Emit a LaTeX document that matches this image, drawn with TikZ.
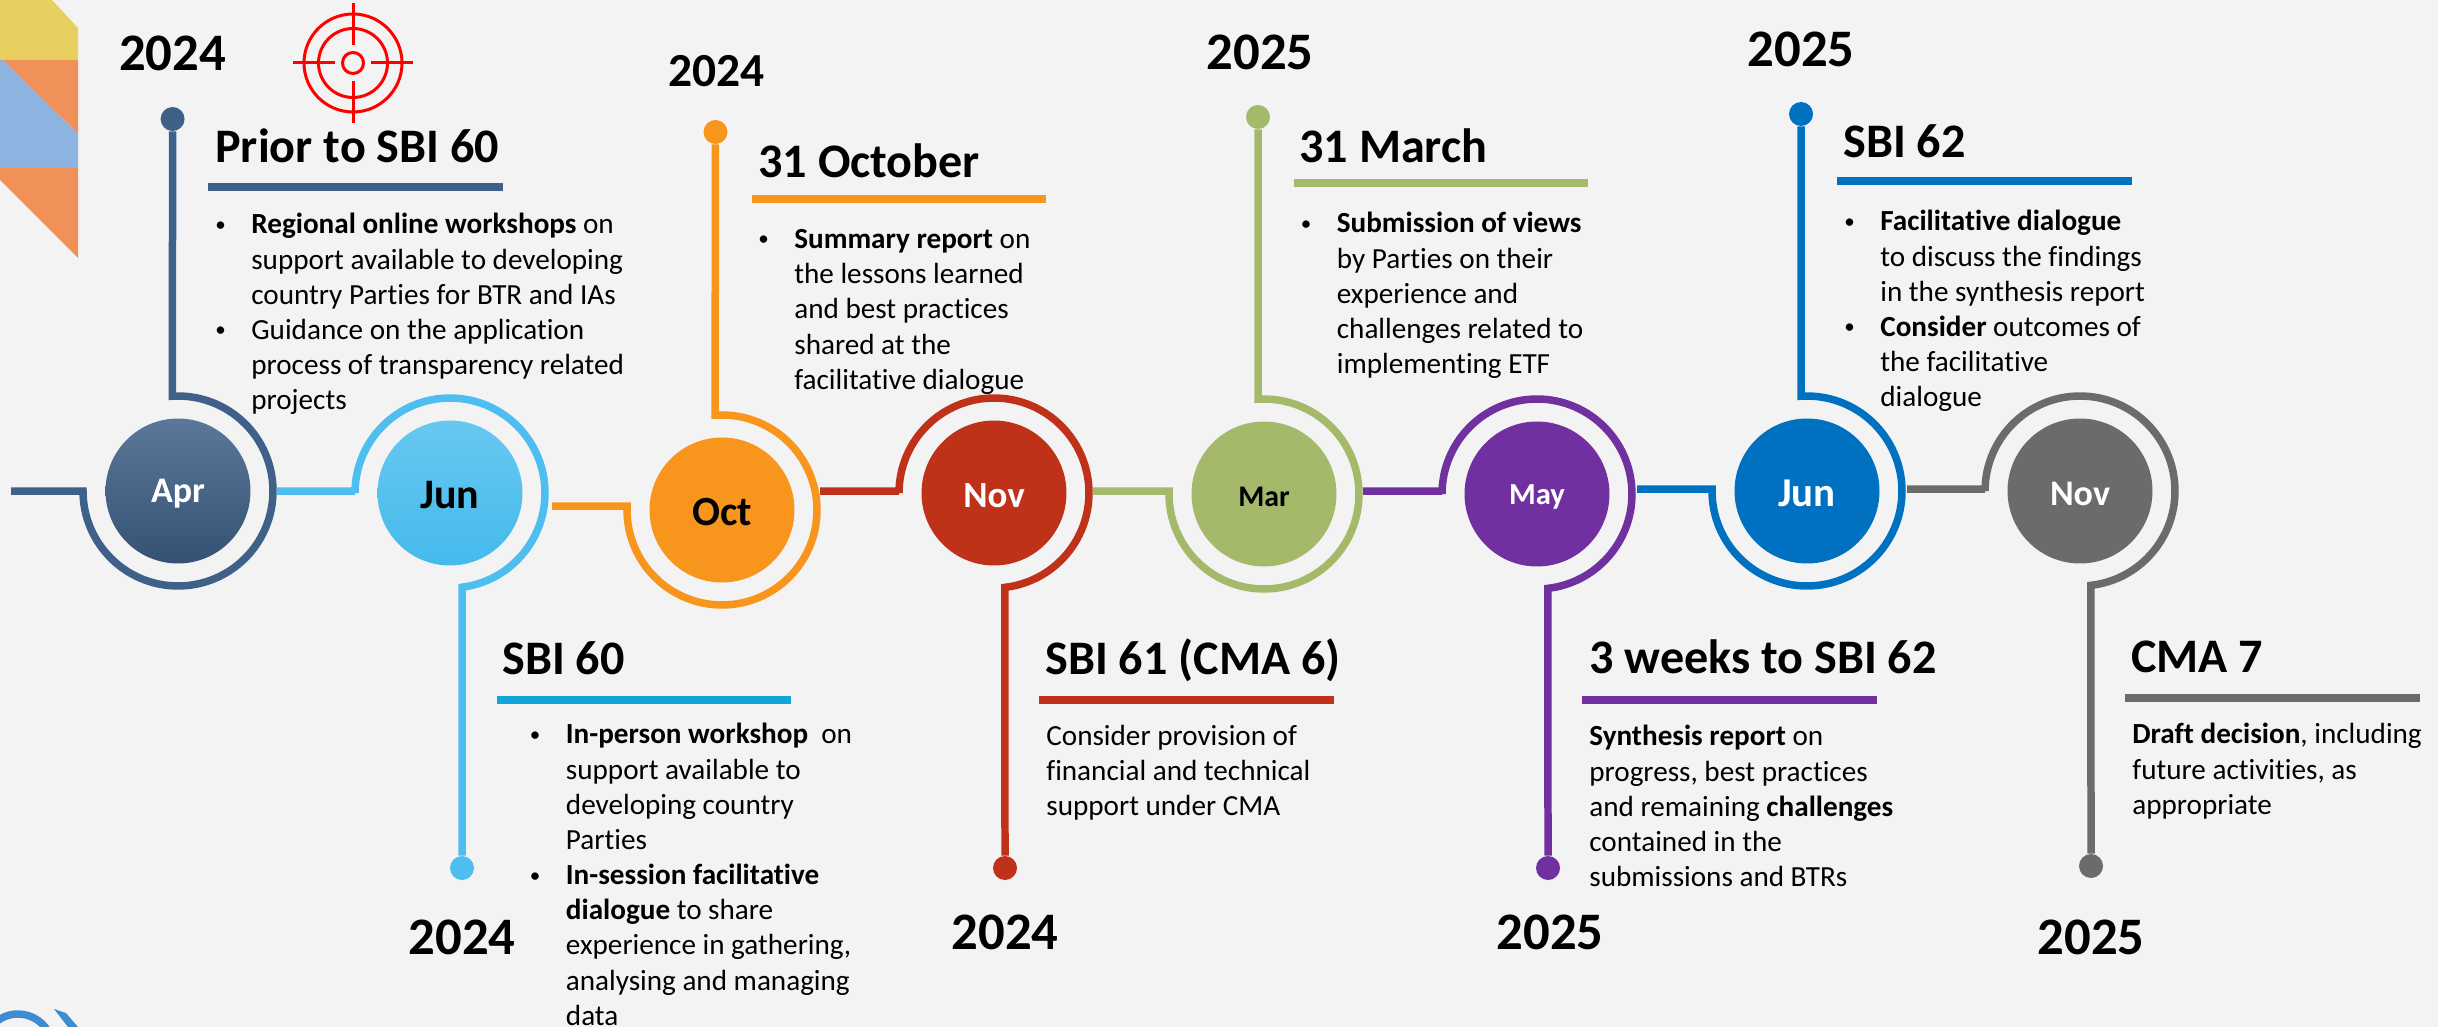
\documentclass[tikz,border=0pt]{standalone}
\usepackage{fontspec}
\setmainfont[Ligatures=NoCommon]{Carlito}

\definecolor{aprcol}{HTML}{3E6089}
\definecolor{juncol}{HTML}{4DBEEF}
\definecolor{octcol}{HTML}{F8951D}
\definecolor{novcol}{HTML}{C0311A}
\definecolor{marcol}{HTML}{A5B96B}
\definecolor{maycol}{HTML}{7030A0}
\definecolor{jubcol}{HTML}{0070C0}
\definecolor{nvbcol}{HTML}{6B6B6B}
\definecolor{sbicol}{HTML}{11A5DC}
\definecolor{paper}{HTML}{F3F3F3}
\definecolor{cornery}{HTML}{E8D060}
\definecolor{cornero}{HTML}{F0915A}
\definecolor{cornerb}{HTML}{8DB4E0}
\definecolor{logocol}{HTML}{3F8CD0}

\def\ringr{1.9cm}
\def\bl{\makebox[.76cm][l]{\hspace*{.04cm}\scalebox{.72}{\raisebox{.12em}{\textbullet}}}}
\def\ind{\hspace*{.76cm}}
\def\lowr#1{\raisebox{-.05cm}[\height][\depth]{#1}}

\tikzset{
    month/.style={circle, minimum size=2.9cm, inner sep=0pt, font=\bfseries},
    dotmark/.style={circle, minimum size=.48cm, inner sep=0pt},
    ring/.style={line width=.15cm},
    bar/.style={line width=.16cm},
    year/.style={inner sep=0pt, font=\fontsize{30}{30}\selectfont\bfseries},
    title/.style={anchor=base west, inner sep=0pt, font=\fontsize{27.4}{30}\selectfont\bfseries},
    body/.style={anchor=north west, inner sep=0pt, align=left, font=\fontsize{16.6}{20.03}\selectfont},
    aim/.style={red, line width=.06cm},
}

\begin{document}
\begin{tikzpicture}[x=.02cm, y=-.02cm]

    % Page
    \clip (0,0) rectangle (2438,1027);
    \fill[paper] (0,0) rectangle (2438,1027);

    % Corner pieces
    \fill[cornery] (0,0) -- (52,0) -- (78,28) -- (78,60) -- (0,60) -- cycle;
    \fill[cornero] (3,60) -- (78,60) -- (78,134) -- cycle;
    \fill[cornerb] (0,60) -- (3,60) -- (78,134) -- (78,168) -- (0,168) -- cycle;
    \fill[cornero] (0,168) -- (78,168) -- (78,258) -- (0,180) -- cycle;

    % Logo at the bottom
    \draw[logocol, line width=.15cm] (-16.6,1048.6) arc[start angle=180, end angle=20, radius=.692cm];
    \fill[logocol] (54,1009) -- (66,1013) -- (78,1027) -- (68,1027) -- cycle;

    % Target
    \coordinate (aimc) at (353,63);
    \draw[aim] (aimc) circle[radius=.98cm];
    \draw[aim] (aimc) circle[radius=.69cm];
    \draw[aim] (aimc) circle[radius=.21cm];
    \foreach \a in {0,90,180,270}
        \draw[aim] (aimc) ++(\a:.36cm) -- ++(\a:.84cm);

    % Month circles
    \node[month, top color=aprcol!85!white, bottom color=aprcol!85!black, text=white,
        font=\fontsize{20.5}{24}\selectfont\bfseries] (apr) at (178,491) {\lowr{Apr}};
    \node[month, top color=juncol!85!white, bottom color=juncol!85!sbicol, text=black,
        font=\fontsize{23.9}{28}\selectfont\bfseries] (junA) at (450,493) {\lowr{Jun}};
    \foreach \m/\x/\y/\t/\c/\tc/\s in {
        oct/722/510/Oct/octcol/black/23.6,
        nov/994/493/Nov/novcol/white/21,
        mar/1264/494/Mar/marcol/black/17,
        may/1537/494/May/maycol/white/17.4,
        junB/1807/491/Jun/jubcol/white/23.3,
        novB/2080/491/Nov/nvbcol/white/20.5}
        \node[month, fill=\c, text=\tc, font=\fontsize{\s}{\s}\selectfont\bfseries] (\m) at (\x,\y) {\lowr{\t}};

    % End dots
    \foreach \m/\c/\x/\y in {
        apr/aprcol/172.6/119,
        junA/juncol/462/868,
        oct/octcol/715.5/132,
        nov/novcol/1005/868,
        mar/marcol/1258/117,
        may/maycol/1548/868,
        junB/jubcol/1801/114,
        novB/nvbcol/2091/866}
        \node[dotmark, fill=\c] (\m-dot) at (\x,\y) {};

    % Rings with their connectors
    \foreach \m/\c/\a/\y/\e in {
        apr/aprcol/11/491/453.4,
        junA/juncol/277/491/-82.7,
        oct/octcol/552/506/454.2,
        nov/novcol/820/491/-83.4,
        mar/marcol/1093/491/453.6,
        may/maycol/1363/491/-83.4,
        junB/jubcol/1637/489/453.6,
        novB/nvbcol/1907/489/-83.4}
        \draw[ring, \c] (\a,\y) -| ([xshift=-\ringr]\m.center)
            arc[start angle=180, end angle=\e, radius=\ringr] -- (\m-dot);

    % Years
    \foreach \n/\x/\y/\t in {
        ya/172.6/53/2024,
        yb/462/937/2024,
        yd/1005/932/2024,
        ye/1260/52/2025,
        yf/1550/932/2025,
        yg/1801/49/2025,
        yh/2091/937/2025}
        \node[year] (\n) at (\x,\y) {\t};
    \node[year, font=\fontsize{27}{27}\selectfont\bfseries] (yc) at (716.5,71) {2024};

    % Titles and bars
    \foreach \n/\x/\y/\t/\c/\p/\q/\r in {
        ta/215/163/Prior to SBI 60/aprcol/208/503/187.5,
        tb/502/674/SBI 60/sbicol/497/791/700,
        tc/758/178/31 October/octcol/752/1046/199,
        td/1045/674/SBI 61 (CMA 6)/novcol/1039/1334/700,
        te/1299/162.5/31 March/marcol/1294/1588/183,
        tf/1589/673/3 weeks to SBI 62/maycol/1582/1877/700,
        tg/1843/158/SBI 62/jubcol/1837/2132/181,
        th/2131/672/CMA 7/nvbcol/2125/2420/698}
    {
        \node[title] (\n) at (\x,\y) {\t};
        \draw[bar, \c] (\p,\r) -- (\q,\r);
    }

    % Texts
    \node[body] (ba) at (213,213) {\bl\textbf{Regional online workshops} on\\
        \ind support available to developing\\
        \ind country Parties for BTR and IAs\\
        \bl Guidance on the application\\
        \ind process of transparency related\\
        \ind projects};
    \node[body] (bb) at (527.6,723) {\bl\textbf{In-person workshop}\ \ on\\
        \ind support available to\\
        \ind developing country\\
        \ind Parties\\
        \bl\textbf{In-session facilitative}\\
        \ind\textbf{dialogue} to share\\
        \ind experience in gathering,\\
        \ind analysing and managing\\
        \ind data};
    \node[body] (bc) at (756,229) {\bl\textbf{Summary report} on\\
        \ind the lessons learned\\
        \ind and best practices\\
        \ind shared at the\\
        \ind facilitative dialogue};
    \node[body] (bd) at (1046,725) {Consider provision of\\
        financial and technical\\
        support under CMA};
    \node[body] (be) at (1298.5,212) {\bl\textbf{Submission of views}\\
        \ind by Parties on their\\
        \ind experience and\\
        \ind challenges related to\\
        \ind implementing ETF};
    \node[body] (bf) at (1589,725) {\textbf{Synthesis report} on\\
        progress, best practices\\
        and remaining \textbf{challenges}\\
        contained in the\\
        submissions and BTRs};
    \node[body] (bg) at (1842,210) {\bl\textbf{Facilitative dialogue}\\
        \ind to discuss the findings\\
        \ind in the synthesis report\\
        \bl\textbf{Consider} outcomes of\\
        \ind the facilitative\\
        \ind dialogue};
    \node[body] (bh) at (2132,723) {\textbf{Draft decision}, including\\
        future activities, as\\
        appropriate};

\end{tikzpicture}
\end{document}
